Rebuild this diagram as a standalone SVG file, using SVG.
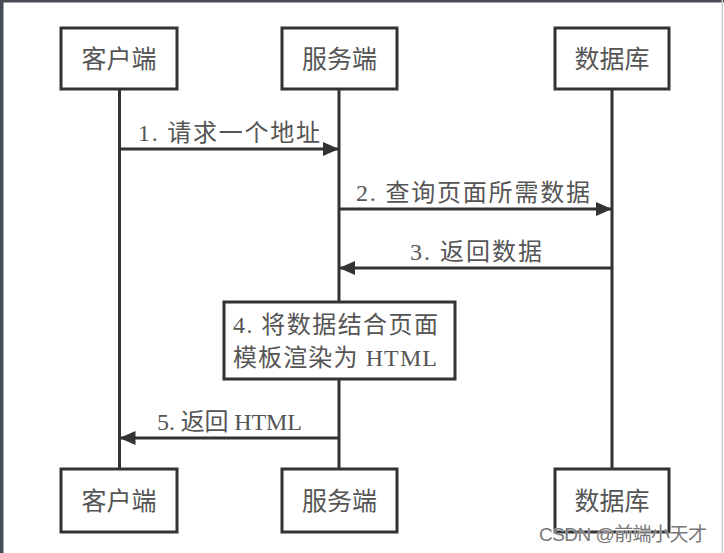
<svg xmlns="http://www.w3.org/2000/svg" width="724" height="553" viewBox="0 0 724 553">
<style>
.box{fill:#fff;stroke:#333;stroke-width:3}
.life{stroke:#333;stroke-width:3;fill:none}
.msg{stroke:#333;stroke-width:3;fill:none}
.t{font-family:"Liberation Serif","Noto Sans CJK SC",serif;fill:#555;font-size:24px}
.n{font-family:"Noto Sans CJK SC",sans-serif;fill:#555;font-size:25px;text-anchor:middle}
.wm{font-family:"Liberation Sans","Noto Sans CJK SC",sans-serif;font-size:19px;fill:#777;stroke:#fff;stroke-width:0.6;paint-order:stroke}
</style>
<defs>
<marker id="ah" viewBox="0 0 16 14" refX="16" refY="7" markerWidth="16" markerHeight="14" markerUnits="userSpaceOnUse" orient="auto">
<path d="M0,0 L16,7 L0,14 Z" fill="#333"/>
</marker>
</defs>
<rect x="0" y="0" width="724" height="553" fill="#fff"/>
<rect x="0" y="0" width="724" height="2.5" fill="#474c57"/>
<rect x="0" y="0" width="3.5" height="553" fill="#474c57"/>
<rect x="721.5" y="0" width="1.5" height="553" fill="#cfcfd2"/>
<g id="lifelines">
<line class="life" x1="119.5" y1="89" x2="119.5" y2="469"/>
<line class="life" x1="339" y1="89" x2="339" y2="469"/>
<line class="life" x1="612" y1="89" x2="612" y2="469"/>
</g>
<g id="connectors">
<line class="msg" x1="119.5" y1="149" x2="339" y2="149" marker-end="url(#ah)"/>
<text class="t" x="138" y="141" textLength="182">1. 请求一个地址</text>
<line class="msg" x1="339" y1="209" x2="612" y2="209" marker-end="url(#ah)"/>
<text class="t" x="356" y="201" textLength="234">2. 查询页面所需数据</text>
<line class="msg" x1="612" y1="268" x2="339" y2="268" marker-end="url(#ah)"/>
<text class="t" x="410" y="260" textLength="132">3. 返回数据</text>
<line class="msg" x1="339" y1="438" x2="119.5" y2="438" marker-end="url(#ah)"/>
<text class="t" x="157" y="430" textLength="145">5. 返回 HTML</text>
</g>
<g id="client-top"><rect class="box" x="61" y="28" width="116" height="61"/><text class="n" x="119" y="68">客户端</text></g>
<g id="server-top"><rect class="box" x="282" y="28" width="115" height="61"/><text class="n" x="339.5" y="68">服务端</text></g>
<g id="db-top"><rect class="box" x="555" y="28" width="114" height="61"/><text class="n" x="612" y="68">数据库</text></g>
<g id="render"><rect class="box" x="224" y="302" width="231" height="77"/>
<text class="t" x="233" y="333" textLength="205">4. 将数据结合页面</text>
<text class="t" x="233" y="366" textLength="204">模板渲染为 HTML</text></g>
<g id="client-bottom"><rect class="box" x="61" y="469" width="116" height="63"/><text class="n" x="119" y="510">客户端</text></g>
<g id="server-bottom"><rect class="box" x="282" y="469" width="115" height="63"/><text class="n" x="339.5" y="510">服务端</text></g>
<g id="db-bottom"><rect class="box" x="555" y="469" width="114" height="63"/><text class="n" x="612" y="510">数据库</text></g>
<text class="wm" x="539" y="541" textLength="168">CSDN @前端小天才</text>
</svg>
